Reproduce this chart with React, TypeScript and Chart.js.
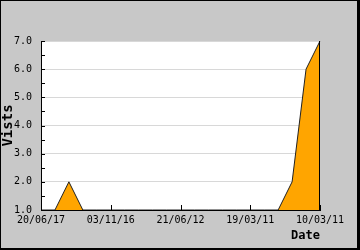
import React, { useEffect, useRef } from "react";
import { Chart, registerables } from "chart.js";

Chart.register(...registerables);

const categories: number[] = [0, 1, 2, 3, 4, 5, 6, 7, 8, 9, 10, 11, 12, 13, 14, 15, 16, 17, 18, 19, 20];
const visits: number[] = [1, 1, 2, 1, 1, 1, 1, 1, 1, 1, 1, 1, 1, 1, 1, 1, 1, 1, 2, 6, 7];
const tickLabels: string[] = ["20/06/17", "03/11/16", "21/06/12", "19/03/11", "10/03/11"];
const tickEvery = 5;
const yMin = 1;
const yMax = 7;
const yTitle = "Vists";
const xTitle = "Date";

const FONT = "'DejaVu Sans Mono', monospace";

const framePlugin = {
  id: "frame",
  beforeDraw(chart: any) {
    const { ctx, width, height } = chart;
    ctx.save();
    ctx.fillStyle = "#c8c8c8";
    ctx.fillRect(0, 0, width, height);
    ctx.fillStyle = "#000";
    ctx.fillRect(0, 0, width, 1);
    ctx.fillRect(0, 0, 1, height);
    ctx.fillRect(width - 3, 0, 3, height);
    ctx.fillRect(0, height - 2, width, 2);
    const a = chart.chartArea;
    ctx.fillStyle = "#fff";
    ctx.fillRect(a.left, a.top, a.right - a.left, a.bottom - a.top);
    ctx.restore();
  },
  afterDraw(chart: any) {
    const { ctx } = chart;
    const a = chart.chartArea;
    const y = chart.scales.y;
    const x = chart.scales.x;
    ctx.save();
    ctx.strokeStyle = "#000";
    ctx.lineWidth = 1;
    ctx.beginPath();
    for (let v = yMin; v <= yMax + 1e-9; v += 0.5) {
      const py = Math.round(y.getPixelForValue(v)) + 0.5;
      ctx.moveTo(a.left, py);
      ctx.lineTo(a.left + 4, py);
    }
    for (let i = 0; i < categories.length; i += tickEvery) {
      const px = Math.round(x.getPixelForValue(i)) + 0.5;
      ctx.moveTo(px, a.bottom);
      ctx.lineTo(px, a.bottom - 5);
    }
    const rx = Math.round(a.right) - 0.5;
    ctx.moveTo(rx, a.top);
    ctx.lineTo(rx, a.bottom);
    ctx.stroke();
    ctx.restore();
  },
};

export default function App() {
  const ref = useRef<HTMLCanvasElement | null>(null);
  useEffect(() => {
    if (!ref.current) return;
    const chart = new Chart(ref.current, {
      type: "line",
      data: {
        labels: categories,
        datasets: [
          {
            data: visits,
            borderColor: "#222",
            borderWidth: 1,
            backgroundColor: "#ffa500",
            fill: "start",
            pointRadius: 0,
            tension: 0,
          },
        ],
      },
      options: {
        animation: false,
        responsive: false,
        events: [],
        layout: { padding: { top: 41, right: 40, left: 0, bottom: 0 } },
        plugins: { legend: { display: false }, tooltip: { enabled: false } },
        scales: {
          x: {
            type: "category",
            offset: false,
            grid: { display: false, drawTicks: false },
            border: { display: true, color: "#000", width: 1 },
            ticks: {
              autoSkip: false,
              maxRotation: 0,
              minRotation: 0,
              padding: 4,
              color: "#000",
              font: { family: FONT, size: 10 },
              callback: (_v: any, i: number) => (i % tickEvery === 0 ? tickLabels[i / tickEvery] : ""),
            },
            title: {
              display: true,
              text: xTitle,
              align: "end",
              color: "#000",
              font: { family: FONT, size: 12, weight: "bold" },
              padding: { top: 0, bottom: 7 },
            },
            afterFit: (s: any) => {
              s.height = 40;
            },
          },
          y: {
            min: yMin,
            max: yMax,
            grid: { color: "#d8d8d8", drawTicks: false, lineWidth: 1 },
            border: { display: true, color: "#000", width: 1 },
            ticks: {
              stepSize: 1,
              padding: 9,
              color: "#000",
              font: { family: FONT, size: 10 },
              callback: (v: any) => Number(v).toFixed(1),
            },
            title: {
              display: true,
              text: yTitle,
              color: "#000",
              font: { family: FONT, size: 14, weight: "bold" },
              padding: { top: 0, bottom: 0 },
            },
            afterFit: (s: any) => {
              s.width = 41;
            },
          },
        },
      },
      plugins: [framePlugin],
    });
    return () => chart.destroy();
  }, []);
  return (
    <div style={{ position: "fixed", left: 0, top: 0, width: 360, height: 250 }}>
      <canvas ref={ref} width={360} height={250} style={{ display: "block", width: 360, height: 250 }} />
    </div>
  );
}
